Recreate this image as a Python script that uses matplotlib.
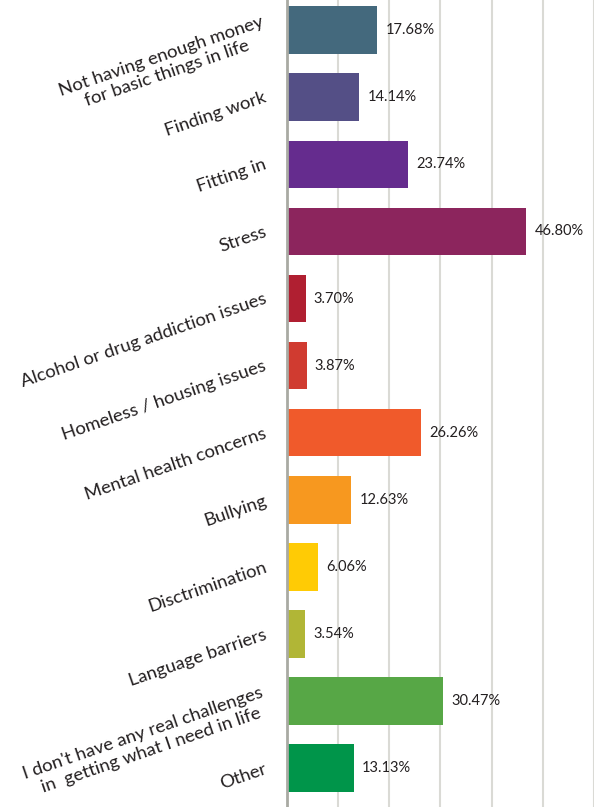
import matplotlib.pyplot as plt

# Survey responses: biggest challenges
categories = [
    "Not having enough money\nfor basic things in life",
    "Finding work",
    "Fitting in",
    "Stress",
    "Alcohol or drug addiction issues",
    "Homeless / housing issues",
    "Mental health concerns",
    "Bullying",
    "Disctrimination",
    "Language barriers",
    "I don't have any real challenges\n in  getting what I need in life",
    "Other",
]
percentages = [17.68, 14.14, 23.74, 46.80, 3.70, 3.87, 26.26, 12.63, 6.06, 3.54, 30.47, 13.13]
bar_colors = ["#44697D", "#544F86", "#652C8E", "#8C255D", "#B01F31", "#D03B30",
              "#F05A2B", "#F7981F", "#FFCB05", "#B1B636", "#57A746", "#00954A"]

plt.rcParams['font.family'] = ['Lato', 'DejaVu Sans']

fig = plt.figure(figsize=(5.94, 8.07), dpi=100)
ax = fig.add_axes([0.4827, 0.0, 0.5173, 1.0])

y = list(range(len(categories)))
ax.barh(y, percentages, height=0.71, color=bar_colors, zorder=2)

for yi, val in zip(y, percentages):
    ax.text(val + 1.6, yi, f"{val:.2f}%", va='center', ha='left',
            fontsize=10.5, color='#231F20')

ax.set_xlim(0, 60)
ax.set_ylim(11.58, -0.45)
ax.set_xticks(range(0, 61, 10))
ax.xaxis.grid(True, color='#DADAD5', linewidth=1.5, zorder=0)
ax.tick_params(axis='x', length=0, labelbottom=False)
ax.tick_params(axis='y', length=0)

ax.set_yticks(y)
ax.set_yticklabels(categories, rotation=19, ha='right', va='center',
                   rotation_mode='anchor', fontsize=13.3, color='#231F20',
                   multialignment='center', linespacing=1.15)
ax.tick_params(axis='y', pad=15)

for side in ['top', 'right', 'bottom']:
    ax.spines[side].set_visible(False)
ax.spines['left'].set_color('#A9AAA3')
ax.spines['left'].set_linewidth(2)

fig.savefig("out.png", dpi=100)
